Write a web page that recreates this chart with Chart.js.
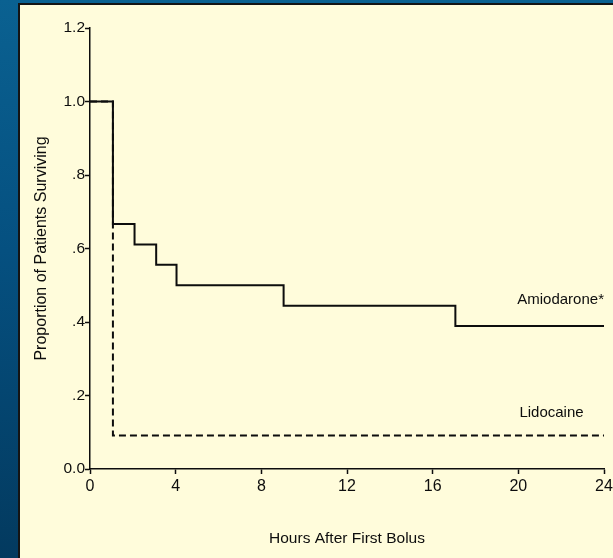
<!DOCTYPE html>
<html>
<head>
<meta charset="utf-8">
<script src="https://cdn.jsdelivr.net/npm/chart.js@4.4.1/dist/chart.umd.min.js"></script>
<style>
  html, body { margin: 0; padding: 0; }
  body {
    width: 613px; height: 558px; overflow: hidden; position: relative;
    background: linear-gradient(180deg, #0a6191 0%, #055080 45%, #033a5f 100%);
  }
  #panel {
    position: absolute; left: 18px; top: 3px; right: 0; bottom: 0;
    background: #fffcdb;
    border-left: 2px solid #141414; border-top: 2px solid #141414;
  }
  #km { position: absolute; left: 0; top: 0; }
</style>
</head>
<body>
<div id="panel"></div>
<canvas id="km" width="613" height="558"></canvas>
<script>
const amioHours = [0, 1.07, 2.08, 3.09, 4.04, 9.04, 17.06, 24];
const amioSurv = [1.0, 0.667, 0.611, 0.556, 0.5, 0.444, 0.389, 0.389];
const lidoHours = [0, 1.07, 24];
const lidoSurv = [1.0, 0.091, 0.091];
const yTickLabels = ['0.0', '.2', '.4', '.6', '.8', '1.0', '1.2'];
const seriesNames = ['Amiodarone*', 'Lidocaine'];
const nameAt = [[19.95, 0.459], [20.05, 0.152]];

const sans = "'Liberation Sans', Arial, Helvetica, sans-serif";
const ink = '#0d0d0d';

const pts = (xs, ys) => xs.map((x, i) => ({ x: x, y: ys[i] }));

// names written next to the curves instead of a legend
const seriesLabels = {
  id: 'seriesLabels',
  afterDatasetsDraw(chart) {
    const { ctx, scales: { x, y } } = chart;
    ctx.save();
    ctx.fillStyle = ink;
    ctx.font = '15px ' + sans;
    ctx.textBaseline = 'middle';
    ctx.textAlign = 'left';
    seriesNames.forEach((name, i) => {
      ctx.fillText(name, x.getPixelForValue(nameAt[i][0]), y.getPixelForValue(nameAt[i][1]));
    });
    ctx.restore();
  }
};

new Chart(document.getElementById('km').getContext('2d'), {
  type: 'line',
  data: {
    datasets: [{
      label: seriesNames[0],
      data: pts(amioHours, amioSurv),
      stepped: 'before',
      borderColor: ink,
      borderWidth: 2,
      pointRadius: 0,
      fill: false,
      order: 0
    }, {
      label: seriesNames[1],
      data: pts(lidoHours, lidoSurv),
      stepped: 'before',
      borderColor: ink,
      borderWidth: 2,
      borderDash: [7, 4],
      pointRadius: 0,
      fill: false,
      order: 1
    }]
  },
  options: {
    responsive: false,
    animation: false,
    layout: { padding: { top: 28, right: 9, bottom: 0, left: 0 } },
    plugins: {
      legend: { display: false },
      tooltip: { enabled: false }
    },
    scales: {
      x: {
        type: 'linear',
        min: 0, max: 24,
        afterFit(scale) {
          scale.height = 89;
          scale.paddingLeft = 0;
          scale.paddingRight = 0;
        },
        border: { color: ink, width: 1.5 },
        grid: { drawOnChartArea: false, tickLength: 5, color: ink, tickWidth: 1.5 },
        ticks: {
          stepSize: 4, padding: 3, color: ink,
          font: { family: sans, size: 16 }
        },
        title: {
          display: true, text: 'Hours After First Bolus', color: ink,
          font: { family: sans, size: 15.5 },
          padding: { top: 0, bottom: 10 }
        }
      },
      y: {
        min: 0, max: 1.2,
        afterFit(scale) { scale.width = 90; },
        border: { color: ink, width: 1.5 },
        grid: { drawOnChartArea: false, tickLength: 5, color: ink, tickWidth: 1.5 },
        ticks: {
          stepSize: 0.2, padding: 0, color: ink,
          font: { family: sans, size: 15.5 },
          callback: function(value, index) {
            return yTickLabels[index];
          }
        },
        title: {
          display: true, text: 'Proportion of Patients Surviving', color: ink,
          font: { family: sans, size: 16 },
          padding: { top: 32, bottom: 0 }
        }
      }
    }
  },
  plugins: [seriesLabels]
});
</script>
</body>
</html>
